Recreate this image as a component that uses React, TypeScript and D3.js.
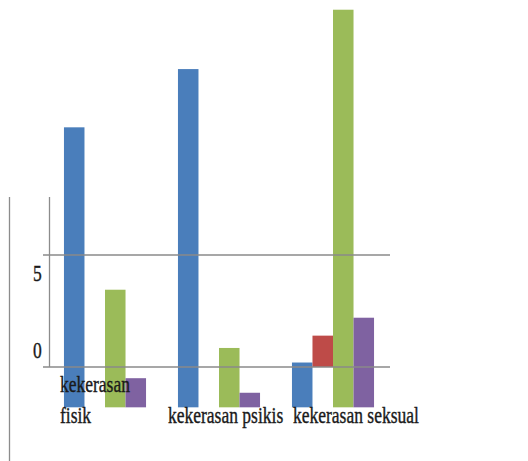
import React from "react";
import * as d3 from "d3";

const categories = ["kekerasan fisik", "kekerasan psikis", "kekerasan seksual"];
const labelLines = [["kekerasan", "fisik"], ["kekerasan psikis"], ["kekerasan seksual"]];
const seriesNames = ["Seri 1", "Seri 2", "Seri 3", "Seri 4"];
const blueValues = [10.7, 13.3, 0.2];
const redValues = [0, 0, 1.4];
const greenValues = [3.45, 0.85, 15.95];
const purpleValues = [-0.5, -1.15, 2.2];
const seriesBase = [-1.8, 0, -1.8, -1.8];
const yTicks = [0, 5];

const colors = ["#4A7EBB", "#BE4B48", "#9BBB59", "#7F62A1"];
const labelDx = [-4, -10, 1];

export default function App() {
  const W = 528, H = 461;
  const series = [blueValues, redValues, greenValues, purpleValues];
  const x = d3.scaleBand<string>().domain(categories).range([48, 390]).paddingInner(0.28).paddingOuter(0.14);
  const xs = d3.scaleBand<string>().domain(seriesNames).range([0, x.bandwidth()]);
  const y = d3.scaleLinear().domain([0, 5]).range([367, 255]);
  const font = "'Liberation Serif', 'DejaVu Serif', serif";
  const sx = 0.73;

  return (
    <svg width={W} height={H} style={{ position: "absolute", left: 0, top: 0, background: "#fff" }}>
      <rect width={W} height={H} fill="#fff" />
      <line x1={9.5} x2={9.5} y1={197} y2={H} stroke="#8c8c8c" strokeWidth={1.3} />
      {series.map((vals, si) =>
        vals.map((v, ci) => {
          const base = seriesBase[si];
          if (v === base || (si === 1 && v === 0)) return null;
          const y0 = y(Math.max(v, base));
          const y1 = y(Math.min(v, base));
          return (
            <rect
              key={`${si}-${ci}`}
              x={(x(categories[ci]) ?? 0) + (xs(seriesNames[si]) ?? 0)}
              y={y0}
              width={xs.bandwidth()}
              height={y1 - y0}
              fill={colors[si]}
            />
          );
        })
      )}
      {yTicks.map((t) => (
        <line key={t} x1={43} x2={390} y1={y(t)} y2={y(t)} stroke="#8a8a8a" strokeWidth={1.5} />
      ))}
      <line x1={49.5} x2={49.5} y1={197} y2={y(0)} stroke="#8c8c8c" strokeWidth={1.3} />
      {yTicks.map((t) => (
        <g key={t} transform={`translate(37.5, ${y(t) + (t === 0 ? -9 : 26)}) scale(${sx},1)`}>
          <text textAnchor="middle" fontFamily={font} fontSize={24} fill="#1a1a1a" stroke="#1a1a1a" strokeWidth={0.4}>
            {t}
          </text>
        </g>
      ))}
      {categories.map((c, ci) => {
        const lines = labelLines[ci];
        const x0 = (x(c) ?? 0) + labelDx[ci];
        return lines.map((ln, li) => {
          const by = lines.length === 2 ? (li === 0 ? 392 : 423) : 423;
          return (
            <g key={`${ci}-${li}`} transform={`translate(${x0}, ${by}) scale(${sx},1)`}>
              <text fontFamily={font} fontSize={24} fill="#1a1a1a" stroke="#1a1a1a" strokeWidth={0.4}>
                {ln}
              </text>
            </g>
          );
        });
      })}
    </svg>
  );
}
